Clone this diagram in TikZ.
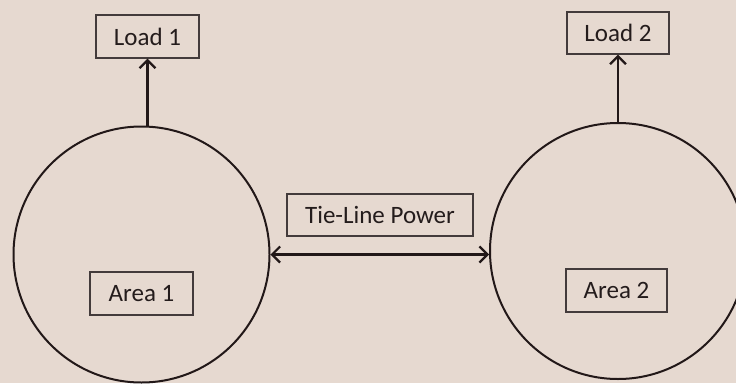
\documentclass[tikz,border=0pt]{standalone}
\usepackage{fontspec}
\setmainfont{Carlito}
\usetikzlibrary{arrows.meta}
\definecolor{paper}{RGB}{230,217,208}
\definecolor{ink}{RGB}{34,24,24}
\definecolor{txt}{RGB}{36,28,28}
\tikzset{
  box/.style={draw=ink!85, line width=1.3pt, inner sep=0pt, text=txt,
    font=\fontsize{25}{29}\selectfont},
  area/.style={draw=ink, line width=2pt, circle, minimum size=256pt, inner sep=0pt},
  flow/.style={draw=ink, line width=2.8pt, -{Straight Barb[length=8pt,width=16pt,line width=2.2pt]}},
  flow2/.style={draw=ink, line width=2.8pt, {Straight Barb[length=8pt,width=16pt,line width=2.2pt]}-{Straight Barb[length=8pt,width=16pt,line width=2.2pt]}}
}
\begin{document}
\begin{tikzpicture}[x=1pt,y=-1pt]
\fill[paper] (0,0) rectangle (736,383);
\useasboundingbox (0,0) rectangle (736,383);
\clip (0,0) rectangle (736,383);
\node[area] (a1) at (141.5,254.5) {};
\node[area] (a2) at (618,251) {};
\node[box, minimum width=103pt, minimum height=43pt] (l1) at (147.5,36.5) {Load 1};
\node[box, minimum width=102pt, minimum height=42pt] (l2) at (618,33) {Load 2};
\node[box, minimum width=186pt, minimum height=42pt] (tie) at (380,215) {Tie-Line Power};
\node[box, minimum width=103pt, minimum height=43pt] (ar1) at (141.5,293.5) {Area 1};
\node[box, minimum width=101pt, minimum height=43pt] (ar2) at (616.5,290.5) {Area 2};
\draw[flow] (l1.south |- a1.north) -- (l1.south);
\draw[flow] (a2.north) -- (l2.south);
\draw[flow2] (a1.east) -- (a1.east -| a2.west);
\end{tikzpicture}
\end{document}
